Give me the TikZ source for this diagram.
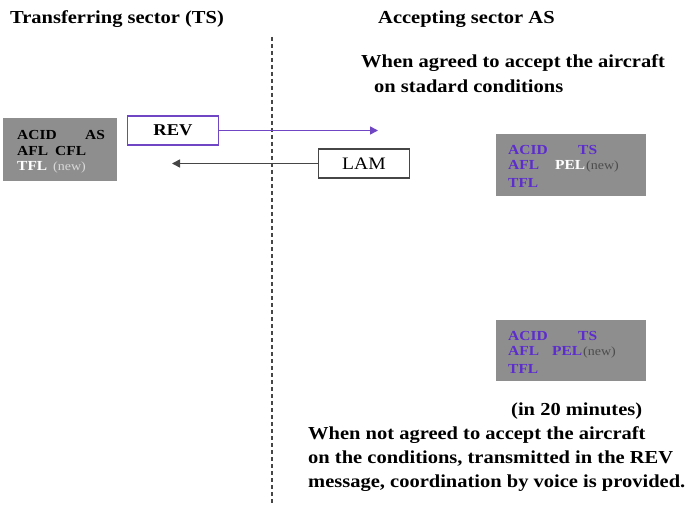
\documentclass[tikz,border=0pt]{standalone}
\usepackage{fontspec}
\setmainfont{Liberation Serif}[FakeStretch=1.12]
\usetikzlibrary{arrows.meta}
\definecolor{boxgray}{RGB}{142,142,142}
\definecolor{violet1}{RGB}{92,44,206}
\definecolor{violetline}{RGB}{112,70,196}
\definecolor{darkline}{RGB}{70,70,70}
\tikzset{
  txt/.style={anchor=base west, inner sep=0pt, font=\bfseries\fontsize{18.3}{20}\selectfont},
  boxtxt/.style={anchor=base west, inner sep=0pt, font=\bfseries\fontsize{13.8}{15}\selectfont},
  newtxt/.style={anchor=base west, inner sep=0pt, font=\fontsize{12.5}{14}\selectfont},
  grayblock/.style={fill=boxgray, draw=none},
  msgbox/.style={draw, line width=1.5pt, minimum height=29pt, inner sep=0pt},
}
\begin{document}
\begin{tikzpicture}[x=1pt,y=-1pt]
\useasboundingbox (0,0) rectangle (687,505);

% sector boundary
\draw[darkline, line width=1.4pt, dash pattern=on 4pt off 3pt] (272,37) -- (272,505);

% headings
\node[txt] (hts) at (10,24) {Transferring sector (TS)};
\node[txt] (has) at (378,24) {Accepting sector AS};
\node[txt] (agr1) at (361,68) {When agreed to accept the aircraft};
\node[txt] (agr2) at (374,93) {on stadard conditions};

% transferring sector data block
\fill[grayblock] (3,118) rectangle (117,181);
\node[boxtxt] (l1a) at (17,140) {ACID};
\node[boxtxt] (l1b) at (85,140) {AS};
\node[boxtxt] (l2a) at (17,155.5) {AFL};
\node[boxtxt] (l2b) at (55,155.5) {CFL};
\node[boxtxt, white] (l3a) at (17,171) {TFL};
\node[newtxt, gray!30] (l3b) at (53,171) {(new)};

% messages
\node[msgbox, draw=violetline, minimum width=91pt, font=\bfseries\fontsize{16.5}{18}\selectfont] (rev) at (173,130.5) {REV};
\coordinate (revend) at (378,130.5);
\draw[violetline, line width=1.5pt, -{Triangle[length=8pt,width=8pt]}] (rev.east) -- (revend);

\node[msgbox, draw=darkline, minimum width=91pt, font=\fontsize{17.5}{18}\selectfont] (lam) at (364,163.5) {LAM};
\coordinate (lamend) at (172,163.5);
\draw[darkline, line width=1.5pt, -{Triangle[length=8pt,width=8pt]}] (lam.west) -- (lamend);

% accepting sector data block (standard conditions)
\fill[grayblock] (496,134) rectangle (646,196);
\node[boxtxt, violet1] (r1a) at (508,155) {ACID};
\node[boxtxt, violet1] (r1b) at (578,155) {TS};
\node[boxtxt, violet1] (r2a) at (508,170) {AFL};
\node[boxtxt, white] (r2b) at (555,170) {PEL};
\node[newtxt, black!70] (r2c) at (586,170) {(new)};
\node[boxtxt, violet1] (r3a) at (508,187) {TFL};

% accepting sector data block (after 20 minutes)
\fill[grayblock] (496,320) rectangle (646,381);
\node[boxtxt, violet1] (s1a) at (508,340) {ACID};
\node[boxtxt, violet1] (s1b) at (578,340) {TS};
\node[boxtxt, violet1] (s2a) at (508,355) {AFL};
\node[boxtxt, violet1] (s2b) at (552,355) {PEL};
\node[newtxt, black!70] (s2c) at (583,355) {(new)};
\node[boxtxt, violet1] (s3a) at (508,373) {TFL};

% note
\node[txt] (min) at (511,415) {(in 20 minutes)};
\node[txt] (n1) at (308,439) {When not agreed to accept the aircraft};
\node[txt] (n2) at (308,463) {on the conditions, transmitted in the REV};
\node[txt] (n3) at (308,487) {message, coordination by voice is provided.};
\end{tikzpicture}
\end{document}
